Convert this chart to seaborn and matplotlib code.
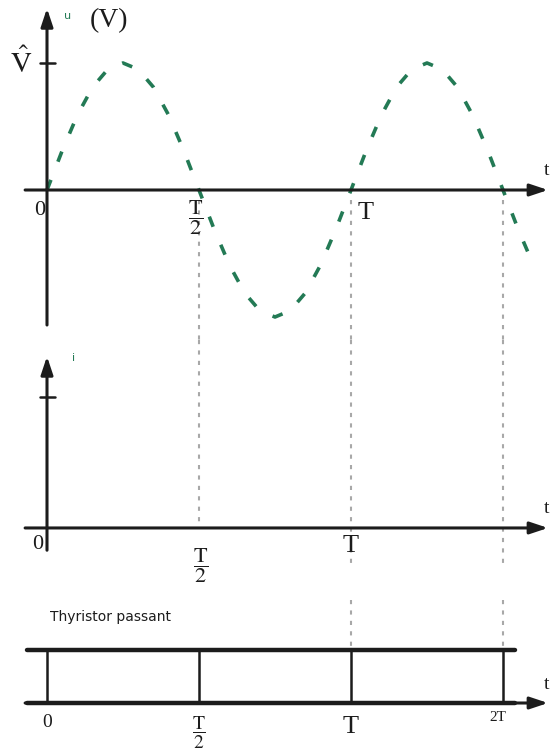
import matplotlib
matplotlib.use("Agg")
import matplotlib.pyplot as plt
import seaborn as sns

# --- DATA (time in units of T, amplitude in units of V^) ---
wave_t = [0.00, 0.05, 0.10, 0.15, 0.20, 0.25, 0.30, 0.35, 0.40, 0.45,
          0.50, 0.55, 0.60, 0.65, 0.70, 0.75, 0.80, 0.85, 0.90, 0.95,
          1.00, 1.05, 1.10, 1.15, 1.20, 1.25, 1.30, 1.35, 1.40, 1.45,
          1.50, 1.55, 1.60]
wave_u = [0.00, 0.31, 0.59, 0.81, 0.95, 1.00, 0.95, 0.81, 0.59, 0.31,
          0.00, -0.31, -0.59, -0.81, -0.95, -1.00, -0.95, -0.81, -0.59, -0.31,
          0.00, 0.31, 0.59, 0.81, 0.95, 1.00, 0.95, 0.81, 0.59, 0.31,
          0.00, -0.31, -0.59]
guide_times = [0.5, 1.0, 1.5]
thyristor_edges = [0.0, 0.5, 1.0, 1.5]
thyristor_level = 1.0
i_tick = 1.0
u_tick = 1.0

GREEN = "#237a55"
INK = "#1c1c1c"
GRID = "#a8a8a8"
SERIF = ["Liberation Serif", "DejaVu Serif"]

sns.set_theme(style="white")
plt.rcParams["mathtext.fontset"] = "stix"
plt.rcParams["font.family"] = SERIF

fig = plt.figure(figsize=(5.5, 7.53), dpi=100)
XLIM = (-47 / 304, 503 / 304)

ax_u = fig.add_axes([0, 413 / 753, 1, 340 / 753])
ax_i = fig.add_axes([0, 153 / 753, 1, 260 / 753])
ax_th = fig.add_axes([0, 0, 1, 153 / 753])
ax_u.set_ylim(-1.181, 1.496)
ax_i.set_ylim(-0.55, 1.435)
ax_th.set_ylim(-0.943, 1.943)
for ax in (ax_u, ax_i, ax_th):
    ax.set_xlim(*XLIM)
    ax.axis("off")


def arrow(ax, x0, y0, x1, y1):
    ax.annotate("", xy=(x1, y1), xytext=(x0, y0),
                arrowprops=dict(arrowstyle="-|>,head_length=0.9,head_width=0.3",
                                color=INK, lw=2.2, shrinkA=0, shrinkB=0))


def frac(ax, x, y, size=16):
    ax.text(x, y, r"$\dfrac{\mathrm{T}}{2}$", ha="center", va="center",
            fontsize=size, color=INK)


def t_label(ax, y):
    ax.text(1.643, y, "t", ha="center", va="center", fontsize=14, color=INK)


# --- top panel: u(t) ---
for g in guide_times:
    ax_u.plot([g, g], [-0.08, -1.181], color=GRID, lw=1.5, ls=(0, (2, 3)))
sns.lineplot(x=wave_t, y=wave_u, ax=ax_u, color=GREEN, linewidth=2.6,
             linestyle=(0, (3.0, 5.4)), sort=False)
arrow(ax_u, -0.072, 0, 1.648, 0)
arrow(ax_u, 0, -1.063, 0, 1.43)
ax_u.plot([-0.023, 0.026], [u_tick, u_tick], color=INK, lw=1.8)
ax_u.text(-0.085, 1.0, r"$\hat{\mathrm{V}}$", ha="center", va="center",
          fontsize=21, color=INK)
ax_u.text(0.069, 1.37, "u", ha="center", va="center", fontsize=8,
          color=GREEN, family=["DejaVu Sans"])
ax_u.text(0.205, 1.33, "(V)", ha="center", va="center", fontsize=20, color=INK)
ax_u.text(-0.025, -0.16, "0", ha="center", va="center", fontsize=16, color=INK)
frac(ax_u, 0.49, -0.22)
ax_u.text(1.048, -0.18, "T", ha="center", va="center", fontsize=19, color=INK)
t_label(ax_u, 0.15)

# --- middle panel: i(t) ---
ax_i.plot([0.5, 0.5], [1.435, 0], color=GRID, lw=1.5, ls=(0, (2, 3)))
for g in guide_times[1:]:
    ax_i.plot([g, g], [1.435, -0.30], color=GRID, lw=1.5, ls=(0, (2, 3)))
arrow(ax_i, -0.072, 0, 1.648, 0)
arrow(ax_i, 0, -0.17, 0, 1.31)
ax_i.plot([-0.023, 0.026], [i_tick, i_tick], color=INK, lw=1.8)
ax_i.text(0.086, 1.30, "i", ha="center", va="center", fontsize=8,
          color=GREEN, family=["DejaVu Sans"])
ax_i.text(-0.03, -0.13, "0", ha="center", va="center", fontsize=16, color=INK)
frac(ax_i, 0.507, -0.29)
ax_i.text(1.0, -0.14, "T", ha="center", va="center", fontsize=19, color=INK)
t_label(ax_i, 0.15)

# --- bottom panel: conduction of the thyristor ---
for g in guide_times[1:]:
    ax_th.plot([g, g], [1.943, thyristor_level], color=GRID, lw=1.5, ls=(0, (2, 3)))
ax_th.plot([-0.066, 1.54], [thyristor_level, thyristor_level], color=INK, lw=3.2)
arrow(ax_th, -0.072, 0, 1.648, 0)
ax_th.plot([-0.066, 1.54], [0, 0], color=INK, lw=3.2)
for e in thyristor_edges:
    ax_th.plot([e, e], [0, thyristor_level], color=INK, lw=1.8)
ax_th.text(0.01, 1.62, "Thyristor passant", ha="left", va="center", fontsize=10,
           color=INK, family=["Liberation Sans Narrow", "DejaVu Sans"])
ax_th.text(0.0, -0.37, "0", ha="center", va="center", fontsize=14, color=INK)
frac(ax_th, 0.5, -0.56, size=14)
ax_th.text(1.0, -0.45, "T", ha="center", va="center", fontsize=19, color=INK)
ax_th.text(1.484, -0.28, "2T", ha="center", va="center", fontsize=11, color=INK)
t_label(ax_th, 0.34)

fig.savefig("out.png", dpi=100, facecolor="white")
